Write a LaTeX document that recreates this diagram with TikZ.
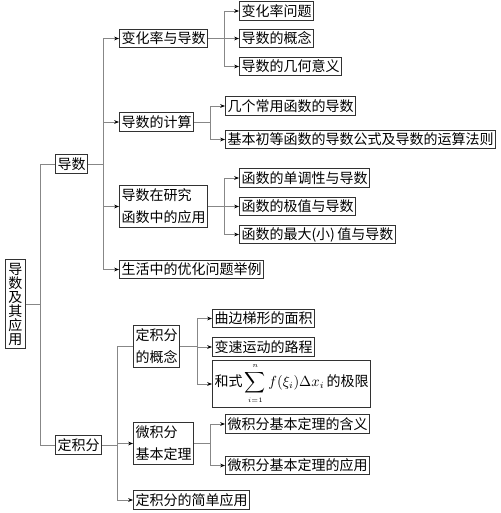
\documentclass[tikz,border=0pt]{standalone}
\usepackage{fontspec}
\usepackage{amsmath}
\newfontfamily\cjk{Noto Sans CJK SC}
\usetikzlibrary{positioning,calc}
\usetikzlibrary{arrows.meta}
\definecolor{LinkGray}{RGB}{135,135,135}
\definecolor{BoxEdge}{RGB}{50,50,50}
\tikzset{
  box/.style={draw=BoxEdge,line width=0.75pt,fill=white,inner xsep=1.5pt,inner ysep=0pt,
    minimum height=14pt,font=\cjk\fontsize{10.5}{16.5}\selectfont,anchor=west},
  twoline/.style={box,align=left,minimum height=31pt},
  rootbox/.style={box,anchor=center,align=center,inner xsep=2pt,minimum height=67pt,
    font=\cjk\fontsize{10.5}{10.5}\selectfont},
  link/.style={draw=LinkGray,line width=0.6pt},
  arr/.style={link,-{Stealth[length=3.6pt,width=2.8pt,color=black]}},
}
\begin{document}
\begin{tikzpicture}[x=0.75pt,y=-0.75pt]
\useasboundingbox (0,0) rectangle (500,513);
% main branches
\node[rootbox] (root) at (15.5,304) {导\\数\\及\\其\\应\\用};
\node[box] (ds) at (55,164) {导数};
\node[box] (djf) at (55,445) {定积分};
% derivative part
\node[box] (bhl) at (119,38.5) {变化率与导数};
\node[box] (js) at (119,122) {导数的计算};
\node[twoline] (yy) at (119,206.5) {导数在研究\\函数中的应用};
\node[box] (sh) at (119,269.5) {生活中的优化问题举例};
\node[box] (bw) at (239,11) {变化率问题};
\node[box] (gn) at (239,38.5) {导数的概念};
\node[box] (jh) at (239,66.5) {导数的几何意义};
\node[box] (cy) at (225,106) {几个常用函数的导数};
\node[box] (jb) at (225,139.5) {基本初等函数的导数公式及导数的运算法则};
\node[box] (dd) at (239,178) {函数的单调性与导数};
\node[box] (jz) at (239,206.5) {函数的极值与导数};
\node[box] (zd) at (239,234.5) {函数的最大(小)\,值与导数};
% integral part
\node[twoline] (jfgn) at (133,346.5) {定积分\\的概念};
\node[twoline] (wjf) at (133,443.5) {微积分\\基本定理};
\node[box] (jd) at (133,500) {定积分的简单应用};
\node[box] (qb) at (212,318.5) {曲边梯形的面积};
\node[box] (bs) at (212,347) {变速运动的路程};
\node[box,inner ysep=2.5pt] (hs) at (212,384)
  {和式\,$\displaystyle\sum\limits_{\scriptscriptstyle i=1}^{\scriptscriptstyle n}
  f(\xi_i)\Delta x_i$\,的极限};
\node[box] (hy) at (225,424) {微积分基本定理的含义};
\node[box] (wy) at (225,465.5) {微积分基本定理的应用};
% connectors
\coordinate (r1) at (40,304);
\draw[link] (root.east) -- (r1);
\draw[link] (r1) |- (ds.west);
\draw[link] (r1) |- (djf.west);
\coordinate (d1) at (103,164);
\draw[link] (ds.east) -- (d1);
\foreach \n in {bhl,js,yy,sh} \draw[arr] (d1) |- (\n.west);
\coordinate (b1) at (224,38.5);
\draw[link] (bhl.east) -- (b1);
\foreach \n in {bw,gn,jh} \draw[arr] (b1) |- (\n.west);
\coordinate (s1) at (210,122);
\draw[link] (js.east) -- (s1);
\foreach \n in {cy,jb} \draw[arr] (s1) |- (\n.west);
\coordinate (y1) at (224,206.5);
\draw[link] (yy.east) -- (y1);
\foreach \n in {dd,jz,zd} \draw[arr] (y1) |- (\n.west);
\coordinate (f1) at (117,445);
\draw[link] (djf.east) -- (f1);
\draw[link] (f1) |- (jfgn.west);
\foreach \n in {wjf,jd} \draw[arr] (f1) |- (\n.west);
\coordinate (g1) at (197,346.5);
\draw[link] (jfgn.east) -- (g1);
\foreach \n in {qb,bs,hs} \draw[arr] (g1) |- (\n.west);
\coordinate (w1) at (210,443.5);
\draw[link] (wjf.east) -- (w1);
\foreach \n in {hy,wy} \draw[arr] (w1) |- (\n.west);
\end{tikzpicture}
\end{document}
